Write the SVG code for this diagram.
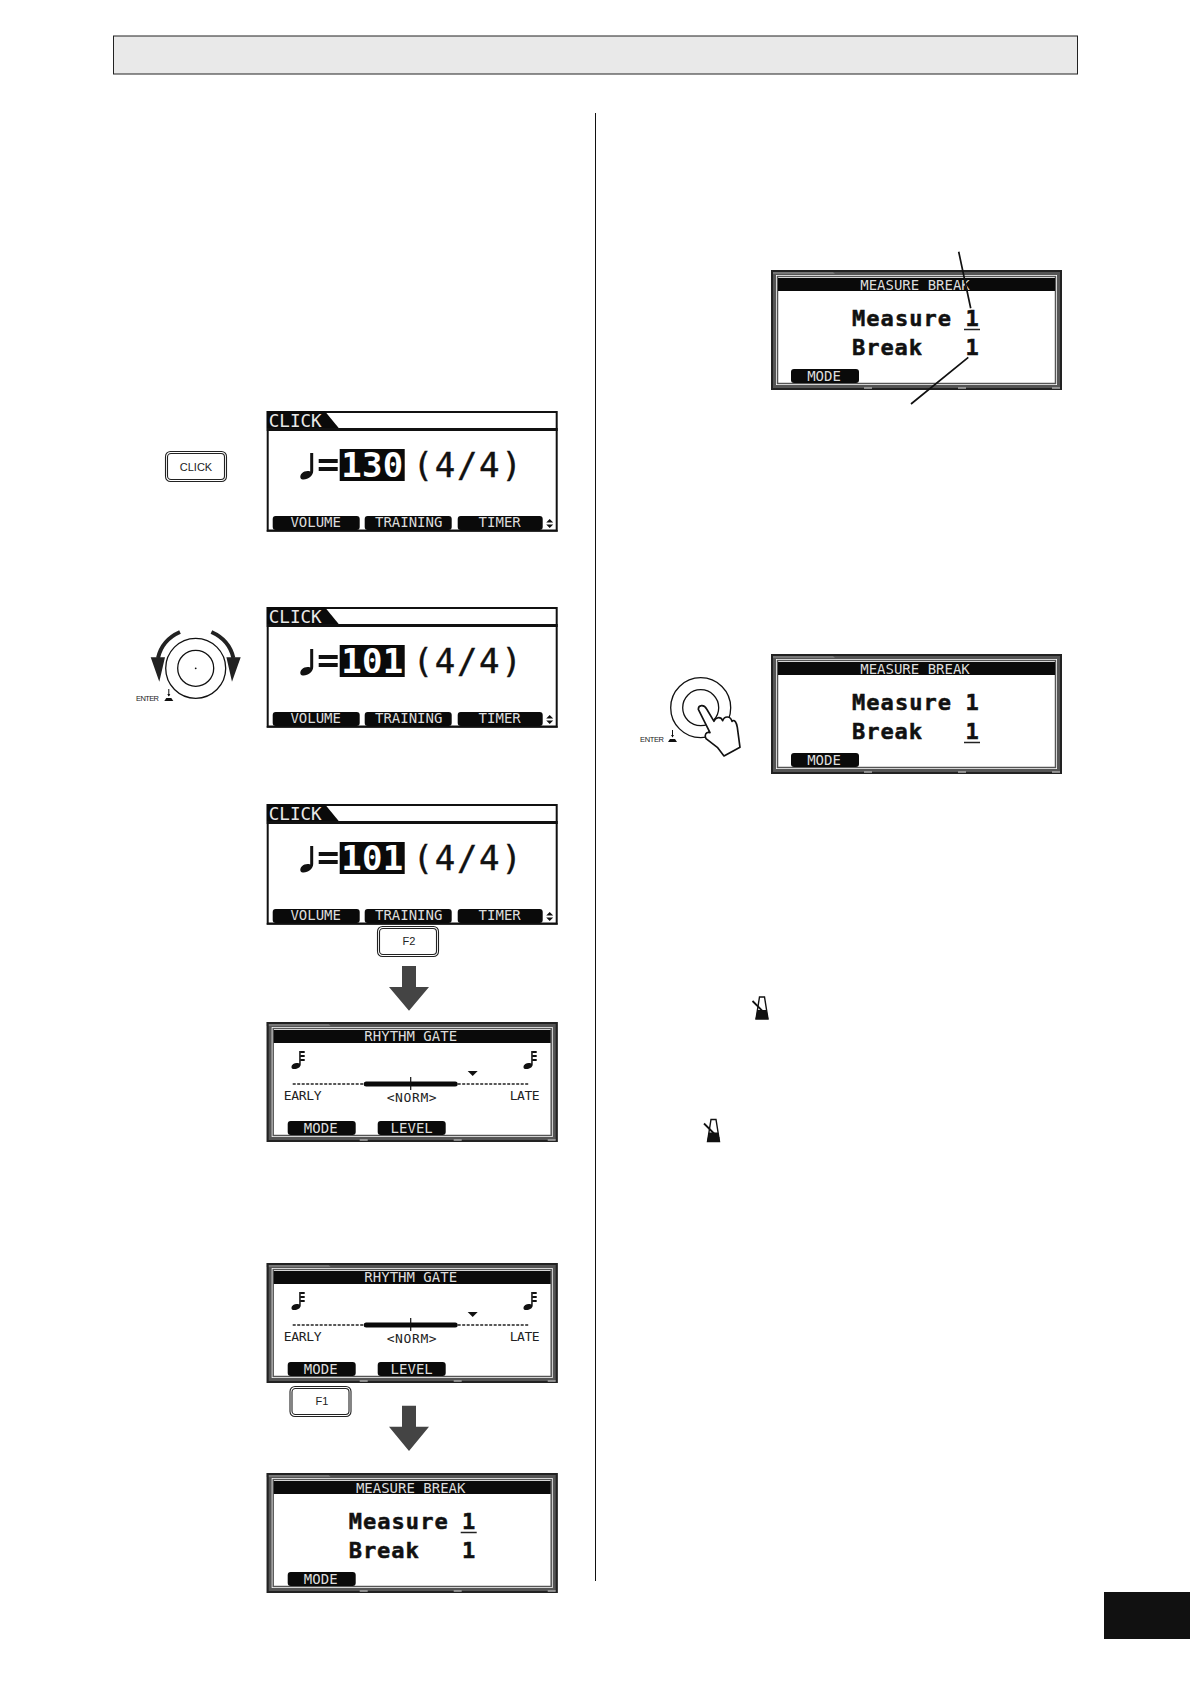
<svg xmlns="http://www.w3.org/2000/svg" xmlns:xlink="http://www.w3.org/1999/xlink" width="1190" height="1684" viewBox="0 0 1190 1684">
<style>
text{font-family:"DejaVu Sans Mono","Liberation Mono",monospace}
.btn{font-family:"Liberation Sans",Arial,sans-serif;font-size:11px;text-anchor:middle;fill:#222}
.ent{font-family:"Liberation Sans",Arial,sans-serif;font-size:7.5px;fill:#222}
.tab{font-size:17.6px;fill:#e8e8e8}
.big{font-size:34px;fill:#111;stroke:#111;stroke-width:.4}
.inv{font-size:34px;font-weight:bold;fill:#fff;text-anchor:middle}
.key{font-size:14px;fill:#ddd;text-anchor:middle}
.ttl{font-size:14px;fill:#ddd;text-anchor:middle}
.lbl{font-size:13px;fill:#222}
.mb{font-size:22px;font-weight:bold;fill:#111;stroke:#111;stroke-width:.5}
.ul{stroke:#222;stroke-width:1.5}
.sk{fill:#0a0a0a}
.line{stroke:#111;stroke-width:1.7;fill:none}
.arrow{fill:#444}
.ring{fill:none;stroke:#111;stroke-width:1.3}
</style>
<defs>
<g id="quarter"><path d="M10.5,0H13.5V18C13.5,23 8,27 3,26.500C0,26 0,22.500 2,20.500C4.500,18 8,17.500 10.500,18.500Z" fill="#111"/></g>
<g id="sixteenth"><path d="M8.500,0H10V13.500C10,16.500 6,18.500 2.500,18C0,17.500 .5,14.500 2.500,13C4.500,11.800 7,12 8.500,12.500Z" fill="#111"/><path d="M9.500,1H14M9.500,5H14M9.500,9H14" stroke="#111" stroke-width="1.800" fill="none"/></g>
<g id="clickFrame">
<rect x="1" y="1" width="289" height="118.500" fill="#fff" stroke="#111" stroke-width="2"/>
<rect x="0" y="17" width="291" height="3" fill="#111"/>
<path d="M0,0H58L72,17H0Z" fill="#0a0a0a"/>
<rect class="sk" x="6" y="105" width="87" height="14" rx="3"/><rect class="sk" x="98" y="105" width="87" height="14" rx="3"/><rect class="sk" x="191" y="105" width="85" height="14" rx="3"/>
<path d="M283,108L286.500,111.500H279.500ZM283,117L286.500,113.500H279.500Z" fill="#111"/>
<path d="M0,120H291" stroke="#111" stroke-width="1.500"/>
</g>
<g id="popupFrame">
<rect x="0" y="0" width="291" height="120" fill="#555"/>
<path d="M0,0H60L64,4H0Z" fill="#777"/>
<rect x="1" y="1" width="289" height="118" fill="none" stroke="#222" stroke-width="2"/>
<rect x="5" y="5" width="281" height="110" fill="#fff"/>
<rect x="6.500" y="6.500" width="278" height="107" fill="#fff" stroke="#555" stroke-width="1.500"/>
<rect x="7" y="8" width="277" height="13" fill="#0a0a0a"/>
<path d="M93,118H101M187,118H195M281,118H289" stroke="#aaa" stroke-width="1.500"/>
</g>
<g id="button"><rect x=".5" y=".5" width="61" height="30" rx="5" fill="#fff" stroke="#222" stroke-width="1.100"/><rect x="2.500" y="2.500" width="57" height="26" rx="3.500" fill="#fff" stroke="#222" stroke-width="1.100"/></g>
<g id="metro"><path d="M3.500,23L7,1H12L15.500,23Z" fill="#fff" stroke="#111" stroke-width="1.400"/><path d="M3,23L5,14H14L16,23Z" fill="#111"/><path d="M0,5L15,20" stroke="#111" stroke-width="1.800"/></g>
<g id="enterIcon"><path d="M0,6L2,3H7L9,6Z" fill="#111"/><path d="M4.500,-6V1" stroke="#111" stroke-width="1"/><path d="M3,-1H6L4.500,1.500Z" fill="#111"/></g>
</defs>

<rect id="header" x="113.500" y="36" width="964" height="38" fill="#e9e9e9" stroke="#222" stroke-width="1"/>
<rect id="divider" x="595" y="113" width="1" height="1468" fill="#111"/>
<rect id="pageTab" x="1104" y="1592" width="86" height="47" fill="#111"/>

<g id="clickButton"><use xlink:href="#button" x="165" y="451"/><text class="btn" x="196" y="470.500">CLICK</text></g>

<g id="lcd1" transform="translate(266.700,411)">
<use xlink:href="#clickFrame"/><text class="tab" x="2" y="15.500">CLICK</text>
<use xlink:href="#quarter" x="33" y="42"/>
<path d="M52,48H71V52H52ZM52,56H71V60H52Z" fill="#111"/>
<rect x="73" y="38" width="65" height="32" fill="#0a0a0a"/>
<text class="inv" x="105.500" y="66" textLength="62">130</text>
<text class="big" x="146" y="66" textLength="109">(4/4)</text>
<text class="key" x="49" y="116">VOLUME</text><text class="key" x="142" y="116">TRAINING</text><text class="key" x="233" y="116">TIMER</text>
</g>

<g id="knob">
<circle class="ring" cx="195.700" cy="668.300" r="30"/><circle class="ring" cx="195.700" cy="668.300" r="18"/><circle cx="195.700" cy="668.300" r=".9" fill="#111"/>
<path d="M180,632Q162,640 158,658M211.400,632Q229.400,640 233.400,658" fill="none" stroke="#222" stroke-width="4"/>
<path d="M150.700,657.300H165L159.300,681.700ZM240.700,657.300H226.400L232,681.700Z" fill="#222"/>
<text class="ent" x="136" y="700.500" textLength="23">ENTER</text>
<use xlink:href="#enterIcon" x="164.300" y="695"/>
</g>

<g id="lcd2" transform="translate(266.700,607)">
<use xlink:href="#clickFrame"/><text class="tab" x="2" y="15.500">CLICK</text>
<use xlink:href="#quarter" x="33" y="42"/>
<path d="M52,48H71V52H52ZM52,56H71V60H52Z" fill="#111"/>
<rect x="73" y="38" width="65" height="32" fill="#0a0a0a"/>
<text class="inv" x="105.500" y="66" textLength="62">101</text>
<text class="big" x="146" y="66" textLength="109">(4/4)</text>
<text class="key" x="49" y="116">VOLUME</text><text class="key" x="142" y="116">TRAINING</text><text class="key" x="233" y="116">TIMER</text>
</g>

<g id="lcd3" transform="translate(266.700,804)">
<use xlink:href="#clickFrame"/><text class="tab" x="2" y="15.500">CLICK</text>
<use xlink:href="#quarter" x="33" y="42"/>
<path d="M52,48H71V52H52ZM52,56H71V60H52Z" fill="#111"/>
<rect x="73" y="38" width="65" height="32" fill="#0a0a0a"/>
<text class="inv" x="105.500" y="66" textLength="62">101</text>
<text class="big" x="146" y="66" textLength="109">(4/4)</text>
<text class="key" x="49" y="116">VOLUME</text><text class="key" x="142" y="116">TRAINING</text><text class="key" x="233" y="116">TIMER</text>
</g>

<g id="f2Button"><use xlink:href="#button" x="377" y="926"/><text class="btn" x="409" y="945">F2</text></g>

<g id="lcd4" transform="translate(266.700,1022)">
<use xlink:href="#popupFrame"/>
<text class="ttl" x="144" y="19">RHYTHM GATE</text>
<use xlink:href="#sixteenth" x="24" y="29"/><use xlink:href="#sixteenth" x="256" y="29"/>
<path d="M26,62H97M191,62H263" stroke="#222" stroke-width="1.500" stroke-dasharray="3 1.500"/>
<rect x="97" y="59.500" width="94" height="5" rx="2.500" fill="#0a0a0a"/>
<path d="M144,55V68" stroke="#111" stroke-width="1.200"/>
<path d="M201,49H211L206,54Z" fill="#111"/>
<text class="lbl" x="17" y="78" textLength="38">EARLY</text><text class="lbl" x="120" y="80" textLength="50">&lt;NORM&gt;</text><text class="lbl" x="243" y="78" textLength="30">LATE</text>
<rect class="sk" x="21" y="99" width="68" height="14" rx="3"/><rect class="sk" x="111" y="99" width="68" height="14" rx="3"/>
<text class="key" x="54" y="110.500">MODE</text><text class="key" x="145" y="110.500">LEVEL</text>
</g>

<g id="lcd5" transform="translate(266.700,1263)">
<use xlink:href="#popupFrame"/>
<text class="ttl" x="144" y="19">RHYTHM GATE</text>
<use xlink:href="#sixteenth" x="24" y="29"/><use xlink:href="#sixteenth" x="256" y="29"/>
<path d="M26,62H97M191,62H263" stroke="#222" stroke-width="1.500" stroke-dasharray="3 1.500"/>
<rect x="97" y="59.500" width="94" height="5" rx="2.500" fill="#0a0a0a"/>
<path d="M144,55V68" stroke="#111" stroke-width="1.200"/>
<path d="M201,49H211L206,54Z" fill="#111"/>
<text class="lbl" x="17" y="78" textLength="38">EARLY</text><text class="lbl" x="120" y="80" textLength="50">&lt;NORM&gt;</text><text class="lbl" x="243" y="78" textLength="30">LATE</text>
<rect class="sk" x="21" y="99" width="68" height="14" rx="3"/><rect class="sk" x="111" y="99" width="68" height="14" rx="3"/>
<text class="key" x="54" y="110.500">MODE</text><text class="key" x="145" y="110.500">LEVEL</text>
</g>

<g id="f1Button"><use xlink:href="#button" x="289.500" y="1386"/><text class="btn" x="322" y="1405">F1</text></g>

<g id="lcd6" transform="translate(266.700,1473)">
<use xlink:href="#popupFrame"/>
<text class="ttl" x="144" y="19.500">MEASURE BREAK</text>
<text class="mb" x="82" y="56" textLength="99">Measure</text><text class="mb" x="202" y="56" text-anchor="middle">1</text>
<path class="ul" d="M194,59.500H210"/>
<text class="mb" x="82" y="85" textLength="70">Break</text><text class="mb" x="202" y="85" text-anchor="middle">1</text>
<rect class="sk" x="21" y="99" width="68" height="14" rx="3"/><text class="key" x="54" y="110.500">MODE</text>
</g>

<g id="lcd7" transform="translate(771,270)">
<use xlink:href="#popupFrame"/>
<text class="ttl" x="144" y="19.500">MEASURE BREAK</text>
<text class="mb" x="81" y="56" textLength="99">Measure</text><text class="mb" x="201" y="56" text-anchor="middle">1</text>
<path class="ul" d="M193,59.500H209"/>
<text class="mb" x="81" y="85" textLength="70">Break</text><text class="mb" x="201" y="85" text-anchor="middle">1</text>
<rect class="sk" x="20" y="99" width="68" height="14" rx="3"/><text class="key" x="53" y="110.500">MODE</text>
</g>

<g id="lcd8" transform="translate(771,654)">
<use xlink:href="#popupFrame"/>
<text class="ttl" x="144" y="19.500">MEASURE BREAK</text>
<text class="mb" x="81" y="56" textLength="99">Measure</text><text class="mb" x="201" y="56" text-anchor="middle">1</text>
<text class="mb" x="81" y="85" textLength="70">Break</text><text class="mb" x="201" y="85" text-anchor="middle">1</text>
<path class="ul" d="M193,88.500H209"/>
<rect class="sk" x="20" y="99" width="68" height="14" rx="3"/><text class="key" x="53" y="110.500">MODE</text>
</g>

<g id="pressKnob">
<circle class="ring" cx="700.700" cy="707.700" r="30"/><circle class="ring" cx="700.700" cy="707.700" r="18"/>
<path transform="translate(630,640) scale(.3333)" d="M205,208C205,195 222,192 230,207L252,244C256,232 272,228 278,242C284,226 302,228 306,244C314,236 320,250 322,262L330,322L282,348L262,322L228,296C222,285 228,275 240,278L205,208Z" fill="#fff" stroke="#111" stroke-width="5" stroke-linejoin="round"/>
<text class="ent" x="640" y="741.500" textLength="24">ENTER</text>
<use xlink:href="#enterIcon" x="668" y="736"/>
</g>

<g id="metronome1"><use xlink:href="#metro" x="752.500" y="996"/></g>
<g id="metronome2"><use xlink:href="#metro" x="704" y="1118.500"/></g>

<g id="connectors">
<path class="line" d="M958.700,251.700L970.700,308.300M968.300,357.300L911,404"/>
<path class="arrow" d="M402,966H416V987H429L409,1010.700L389,987H402Z"/>
<path class="arrow" d="M402,1405.700H416V1426.700H429L409,1451L389,1426.700H402Z"/>
</g>
</svg>
